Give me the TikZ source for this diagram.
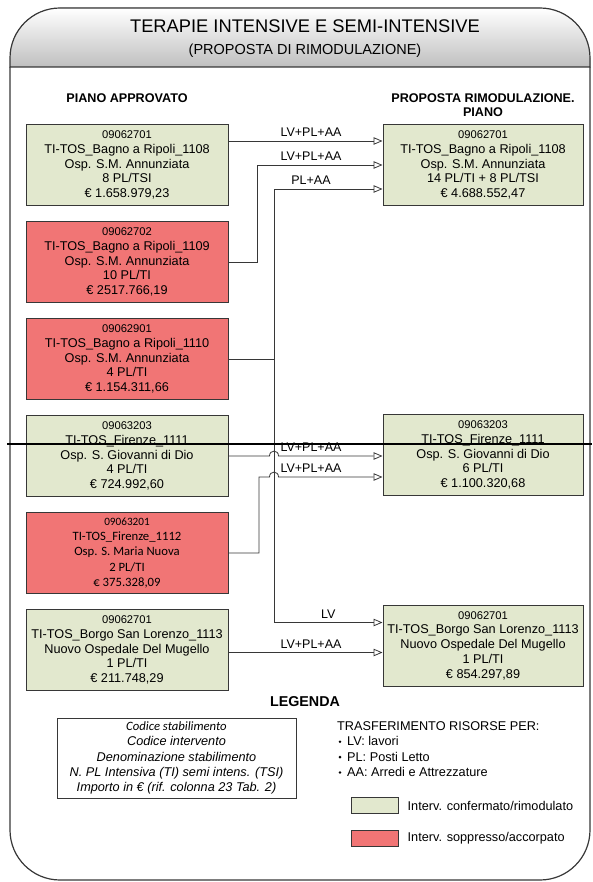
\documentclass[tikz,border=0pt]{standalone}
\usepackage{fontspec}
\setmainfont{Liberation Sans}
\newfontfamily\calibri{Carlito}
\usetikzlibrary{arrows.meta,positioning}
\definecolor{okgreen}{RGB}{226,232,206}
\definecolor{kored}{RGB}{241,117,117}
\definecolor{linegray}{RGB}{55,55,55}
\newcommand{\codnum}[1]{{\fontsize{11.2}{14.8}\selectfont #1}}

\begin{document}
\begin{tikzpicture}[x=1pt,y=-1pt]
    \tikzstyle{every node}=[inner sep=0pt]
    \tikzstyle{box}=[draw=linegray, line width=1pt, minimum width=202pt, minimum height=81pt, align=center, font=\fontsize{12.7}{14.8}\selectfont]
    \tikzstyle{okbox}=[box, fill=okgreen]
    \tikzstyle{kobox}=[box, fill=kored]
    \tikzstyle{flow}=[draw=linegray, line width=0.8pt, -{Triangle[open,length=9pt,width=7.5pt,line width=0.8pt]}]
    \tikzstyle{lbl}=[anchor=south, yshift=4pt, font=\fontsize{12.5}{14}\selectfont]
    \tikzstyle{head}=[anchor=base, font=\bfseries\fontsize{12.6}{14}\selectfont]
    \tikzstyle{legtext}=[font=\fontsize{12.7}{15.3}\selectfont]
    \useasboundingbox (0,0) rectangle (592,882);
    \fill[top color=white, bottom color=black!25] (10,67) -- (10,58) .. controls (10,30.4) and (32.4,8) .. (60,8) -- (540,8) .. controls (567.6,8) and (590,30.4) .. (590,58) -- (590,67) -- cycle;
    \draw[linegray, line width=1.2pt] (10,67) -- (10,58) .. controls (10,30.4) and (32.4,8) .. (60,8) -- (540,8) .. controls (567.6,8) and (590,30.4) .. (590,58) -- (590,67) -- cycle;
    \draw[linegray, line width=1.2pt] (10,67) -- (10,830) .. controls (10,857.6) and (32.4,880) .. (60,880) -- (540,880) .. controls (567.6,880) and (590,857.6) .. (590,830) -- (590,67);
    \node[anchor=base, font=\fontsize{18.3}{20}\selectfont] (title) at (305,33) {TERAPIE INTENSIVE E SEMI-INTENSIVE};
    \node[anchor=base, font=\fontsize{14.5}{16}\selectfont] (subtitle) at (305,55) {(PROPOSTA DI RIMODULAZIONE)};
    \node[head] (hleft) at (127,103) {PIANO APPROVATO};
    \node[head] (hright) at (483,103) {PROPOSTA RIMODULAZIONE.};
    \node[head] (hpiano) at ([yshift=-14pt]hright.base) {PIANO};

    \node[okbox] (app1108) at (127,165) {\codnum{09062701}\\TI-TOS\_Bagno a Ripoli\_1108\\Osp. S.M. Annunziata\\8 PL/TSI\\€ 1.658.979,23};
    \node[kobox, below=15pt of app1108] (app1109) {\codnum{09062702}\\TI-TOS\_Bagno a Ripoli\_1109\\Osp. S.M. Annunziata\\10 PL/TI\\€ 2517.766,19};
    \node[kobox, below=15pt of app1109] (app1110) {\codnum{09062901}\\TI-TOS\_Bagno a Ripoli\_1110\\Osp. S.M. Annunziata\\4 PL/TI\\€ 1.154.311,66};
    \node[okbox, below=15pt of app1110] (app1111) {\codnum{09063203}\\TI-TOS\_Firenze\_1111\\Osp. S. Giovanni di Dio\\4 PL/TI\\€ 724.992,60};
    \node[kobox, below=15pt of app1111, font=\calibri\fontsize{12.7}{15.2}\selectfont] (app1112) {\codnum{09063201}\\TI-TOS\_Firenze\_1112\\Osp. S. Maria Nuova\\2 PL/TI\\€ 375.328,09};
    \node[okbox, below=15pt of app1112] (app1113) {\codnum{09062701}\\TI-TOS\_Borgo San Lorenzo\_1113\\Nuovo Ospedale Del Mugello\\1 PL/TI\\€ 211.748,29};

    \node[okbox, minimum width=200pt] (pro1108) at (483,165) {\codnum{09062701}\\TI-TOS\_Bagno a Ripoli\_1108\\Osp. S.M. Annunziata\\14 PL/TI + 8 PL/TSI\\€ 4.688.552,47};
    \node[okbox, minimum width=200pt] (pro1111) at (483,455) {\codnum{09063203}\\TI-TOS\_Firenze\_1111\\Osp. S. Giovanni di Dio\\6 PL/TI\\€ 1.100.320,68};
    \node[okbox, minimum width=200pt] (pro1113) at (483,645.5) {\codnum{09062701}\\TI-TOS\_Borgo San Lorenzo\_1113\\Nuovo Ospedale Del Mugello\\1 PL/TI\\€ 854.297,89};

    \coordinate (busA) at (257,0);
    \coordinate (busB) at (274,0);
    \coordinate (busC) at (259,0);
    \coordinate (labx) at (311,0);
    \coordinate (in1) at ([yshift=24pt]pro1108.west);
    \coordinate (in2) at (pro1108.west);
    \coordinate (in3) at ([yshift=-24pt]pro1108.west);
    \coordinate (in4) at (app1111.east -| pro1111.west);
    \coordinate (in5) at ([yshift=-22pt]pro1111.west);
    \coordinate (in6) at ([yshift=23pt]pro1113.west);
    \coordinate (in7) at ([yshift=-7pt]pro1113.west);
    \coordinate (hop4) at (busB |- in4);
    \coordinate (hop5) at (busB |- in5);

    \draw[flow] (app1108.east |- in1) -- (in1);
    \node[lbl] at (labx |- in1) {LV+PL+AA};
    \draw[flow] (app1109.east) -| (busA |- in2) -- (in2);
    \node[lbl] at (labx |- in2) {LV+PL+AA};
    \draw[flow] (app1110.east) -| (busB |- in3) -- (in3);
    \node[lbl] at (labx |- in3) {PL+AA};
    \draw[flow] (app1110.east -| busB) |- node[lbl, pos=0.75] {LV} (in6);
    \draw[flow] (app1111.east) -- ([xshift=-4.5pt]hop4) .. controls +(0,-6.5) and +(0,-6.5) .. ([xshift=4.5pt]hop4) -- (in4);
    \node[lbl] at (labx |- in4) {LV+PL+AA};
    \draw[flow] (app1112.east) -| (busC |- in5) -- ([xshift=-4.5pt]hop5) .. controls +(0,-6.5) and +(0,-6.5) .. ([xshift=4.5pt]hop5) -- (in5);
    \node[lbl] at (labx |- in5) {LV+PL+AA};
    \draw[flow] (app1113.east |- in7) -- (in7);
    \node[lbl] at (labx |- in7) {LV+PL+AA};

    \draw[line width=1.5pt] (7,444) -- (592,444);

    \node[anchor=base, font=\bfseries\fontsize{14.3}{16}\selectfont] (legenda) at (305,706) {LEGENDA};
    \node[draw=linegray, line width=1pt, minimum width=239pt, minimum height=80pt, align=center, font=\itshape\fontsize{12.7}{15.3}\selectfont] (legbox) at (176.5,758) {{\calibri\itshape Codice stabilimento}\\Codice intervento\\Denominazione stabilimento\\N. PL Intensiva (TI) semi intens. (TSI)\\Importo in € (rif. colonna 23 Tab. 2)};
    \node[legtext, anchor=base west] (trasf) at (337,730.5) {TRASFERIMENTO RISORSE PER:};
    \foreach \txt [count=\i] in {LV: lavori, PL: Posti Letto, AA: Arredi e Attrezzature} {
        \node[legtext, anchor=base west] (item\i) at (347,{730.5+15.3*\i}) {\txt};
        \fill[black] ([xshift=-7pt, yshift=4pt]item\i.base west) circle (1.4pt);
    }
    \node[draw=linegray, line width=1pt, fill=okgreen, minimum width=47pt, minimum height=16pt] (keyok) at (374.5,805.5) {};
    \node[draw=linegray, line width=1pt, fill=kored, minimum width=47pt, minimum height=16pt, below=16pt of keyok] (keyko) {};
    \node[legtext, right=9pt of keyok] (keyoktext) {Interv. confermato/rimodulato};
    \node[legtext, right=9pt of keyko] (keykotext) {Interv. soppresso/accorpato};
\end{tikzpicture}
\end{document}
